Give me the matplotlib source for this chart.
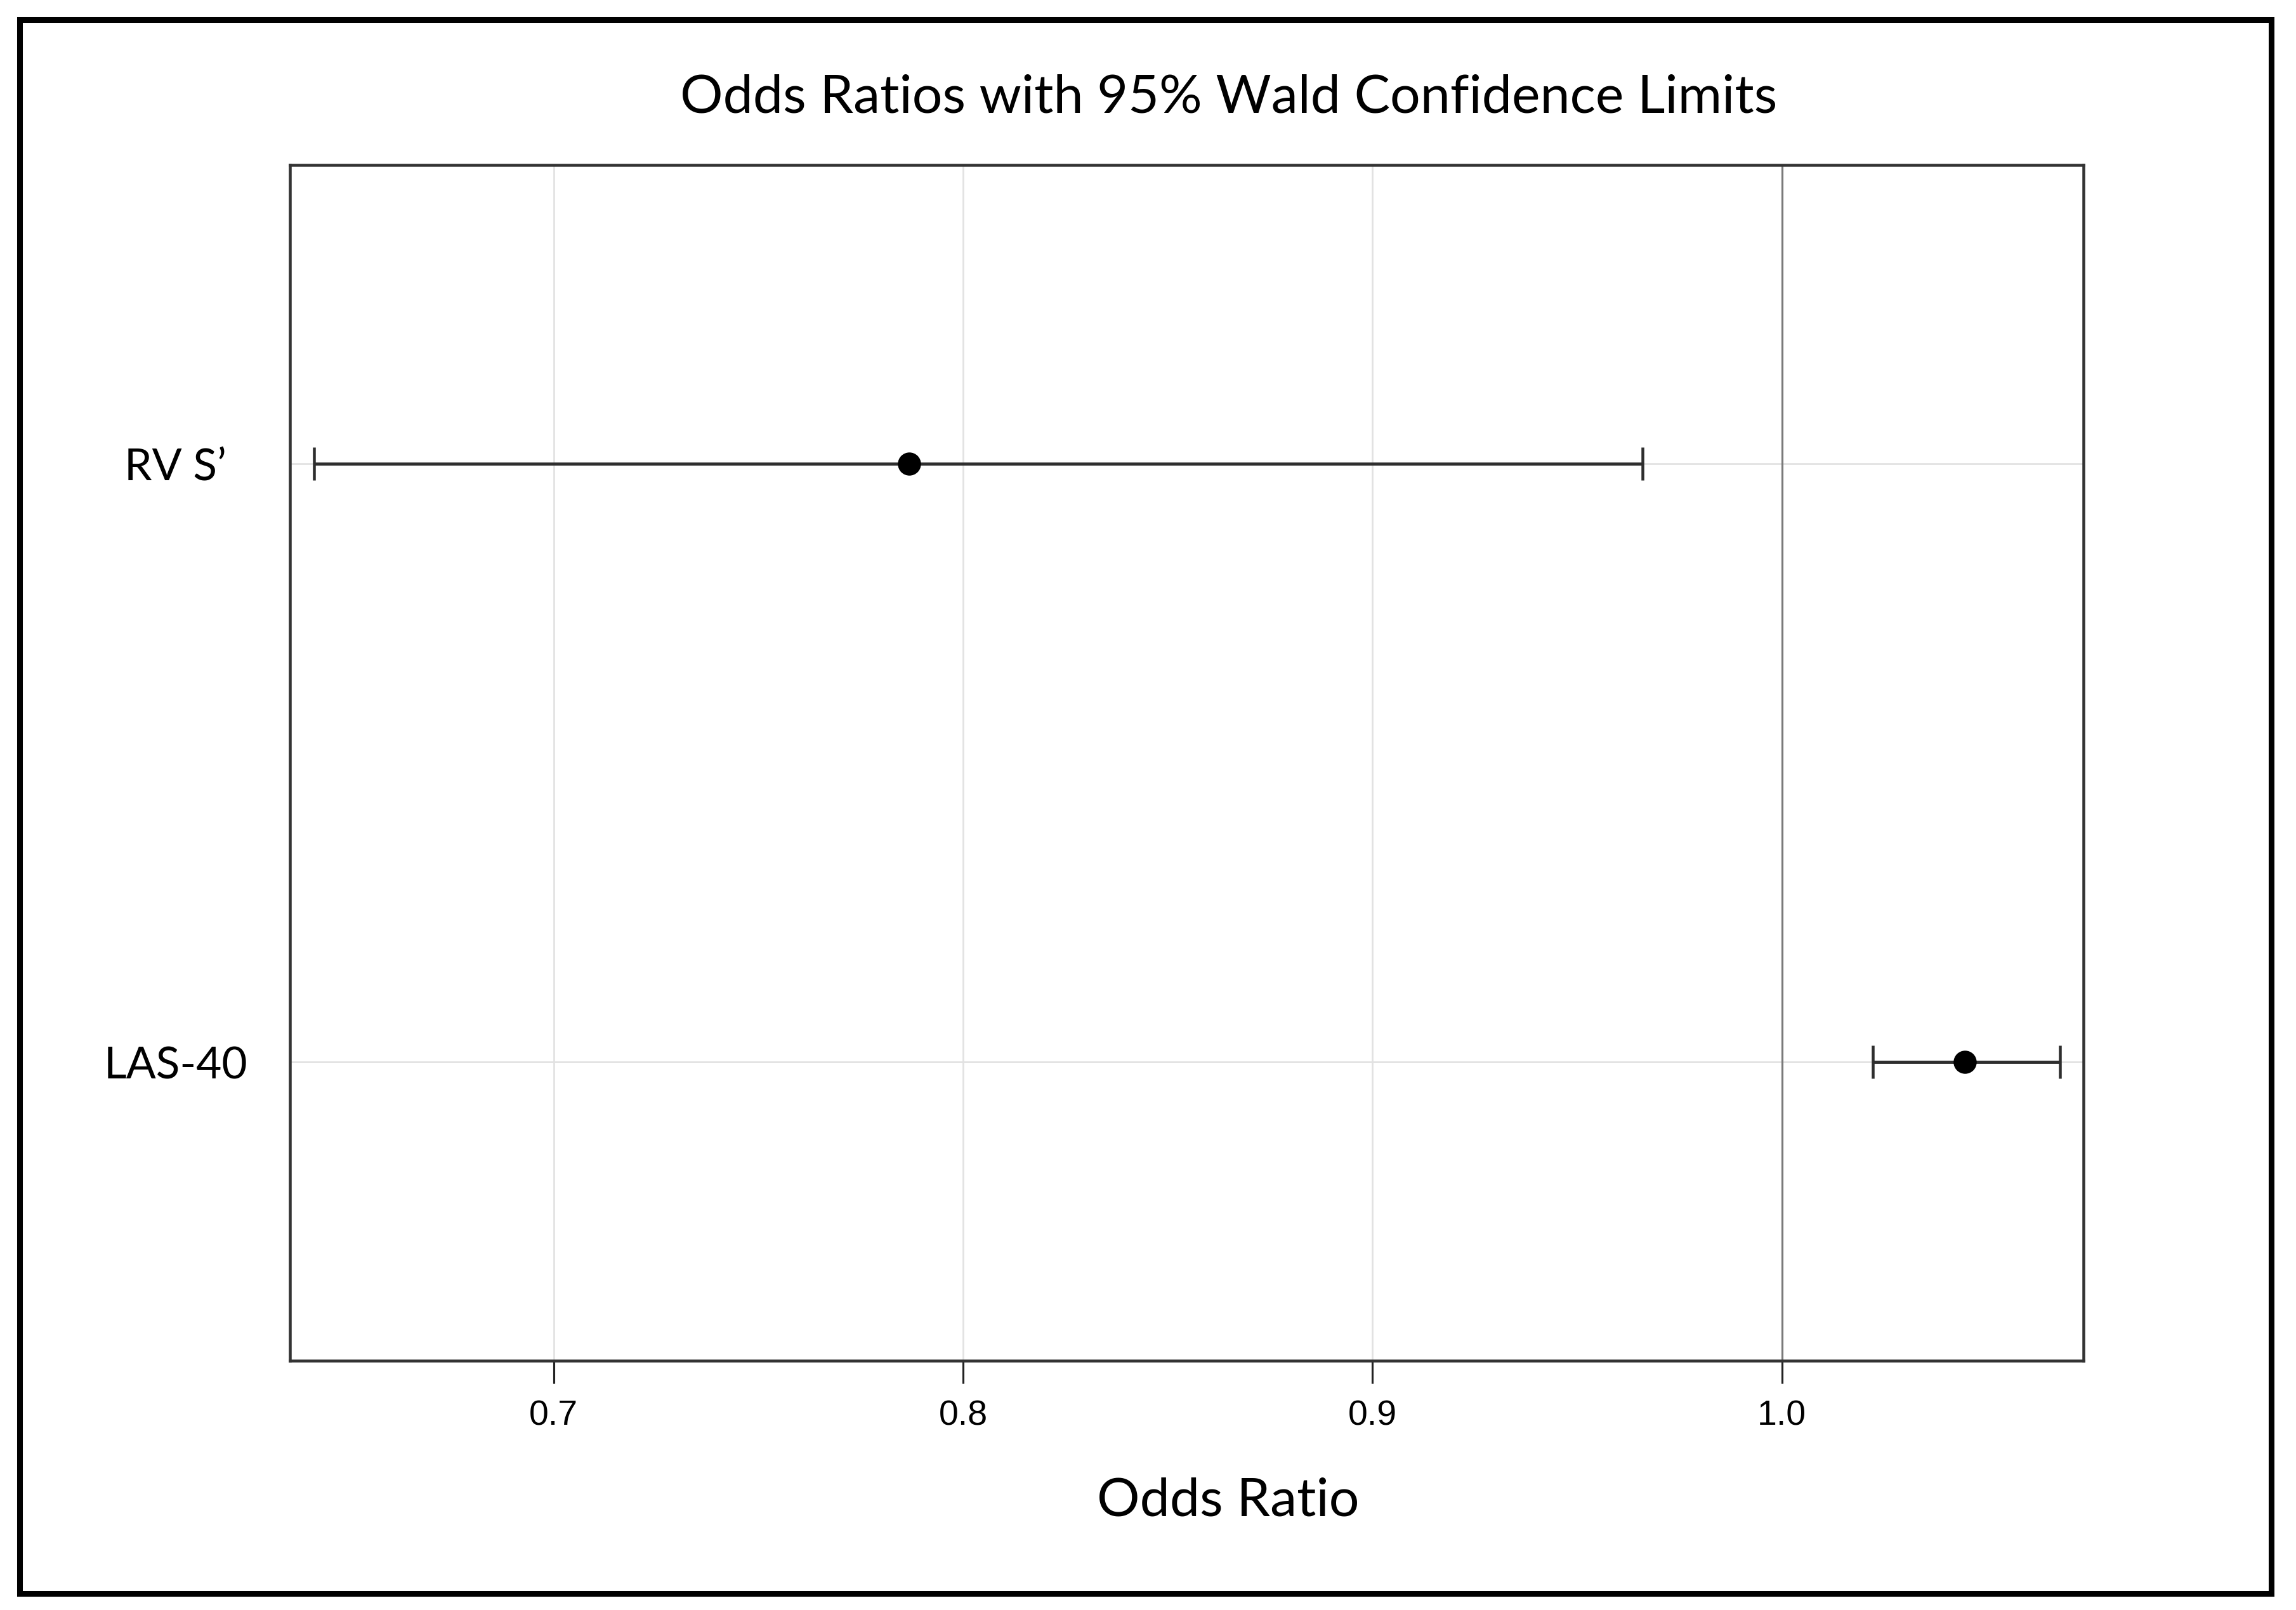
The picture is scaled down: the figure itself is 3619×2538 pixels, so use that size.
import matplotlib
matplotlib.use("Agg")
import matplotlib.pyplot as plt
from matplotlib.patches import Rectangle

# odds ratios with 95% Wald limits
effects = ["LAS-40", "RV S\u2019"]
odds_ratio = [1.0447, 0.7869]
lower_ci = [1.0222, 0.6414]
upper_ci = [1.0679, 0.9660]
xticks = [0.7, 0.8, 0.9, 1.0]
xtick_labels = ["0.7", "0.8", "0.9", "1.0"]

fig = plt.figure(figsize=(14.476, 10.155), dpi=250)
ax = fig.add_axes([0.1263, 0.1548, 0.7812, 0.7424])

# outer frame around the whole figure
fig.patches.append(Rectangle((0.0086, 0.0102), 0.9806, 0.9772, transform=fig.transFigure,
                             fill=False, edgecolor="black", linewidth=2.6, zorder=10))

ypos = list(range(len(effects)))
xerr = [[o - l for o, l in zip(odds_ratio, lower_ci)],
        [u - o for o, u in zip(odds_ratio, upper_ci)]]

ax.axvline(1.0, color="#7a7a7a", linewidth=0.9, zorder=1)
ax.errorbar(odds_ratio, ypos, xerr=xerr, fmt="o", color="black", markersize=9.5,
            ecolor="#2e2e2e", elinewidth=1.4, capsize=7.5, capthick=1.3, zorder=3)

ax.set_xlim(0.6356, 1.0737)
ax.set_ylim(-0.5, 1.5)
ax.set_xticks(xticks)
ax.set_xticklabels(xtick_labels, fontfamily="Liberation Sans", fontsize=16)
ax.set_yticks(ypos)
ax.set_yticklabels(effects, fontfamily="Lato", fontsize=20)
for lbl in ax.get_yticklabels():
    lbl.set_horizontalalignment("center")

ax.tick_params(axis="x", direction="out", length=10.5, width=0.9, color="#222222", pad=7)
ax.tick_params(axis="y", length=0, pad=52)
ax.grid(True, color="#e2e2e2", linewidth=0.8, zorder=0)
ax.set_axisbelow(True)
for sp in ax.spines.values():
    sp.set_color("#333333")
    sp.set_linewidth(1.3)

fig.text(0.535, 0.939, "Odds Ratios with 95% Wald Confidence Limits",
         ha="center", va="center", fontfamily="Lato", fontsize=24.3)
fig.text(0.535, 0.068, "Odds Ratio", ha="center", va="center",
         fontfamily="Lato", fontsize=24.3)

fig.savefig("out.png", dpi=250, facecolor="white")
